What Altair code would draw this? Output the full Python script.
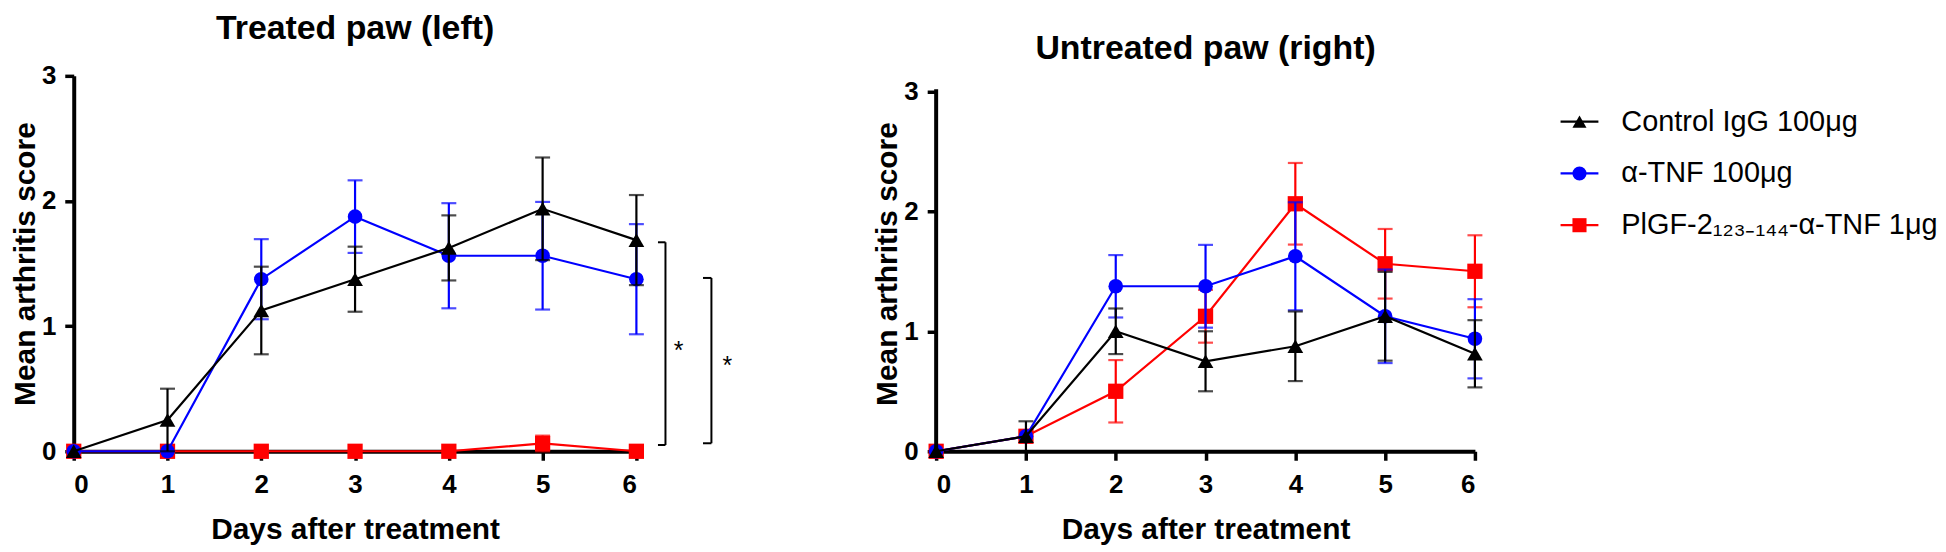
import altair as alt
import pandas as pd

# ---------------- data ----------------
days = [0, 1, 2, 3, 4, 5, 6]
series_names = ["Control IgG 100μg", "α-TNF 100μg", "PlGF-2₁₂₃₋₁₄₄-α-TNF 1μg"]
series_colors = ["#000000", "#0000ff", "#ff0000"]
series_shapes = ["triangle-up", "circle", "square"]
series_sizes = [250, 215, 235]

# Treated paw (left)
left_igg = [0, 0.25, 1.125, 1.375, 1.625, 1.9375, 1.6875]
left_igg_sem = [0, 0.25, 0.35, 0.26, 0.26, 0.41, 0.36]
left_tnf = [0, 0, 1.375, 1.875, 1.5625, 1.5625, 1.375]
left_tnf_sem = [0, 0, 0.32, 0.29, 0.42, 0.43, 0.44]
left_plgf = [0, 0, 0, 0, 0, 0.0625, 0]
left_plgf_sem = [0, 0, 0, 0, 0, 0.0625, 0]

# Untreated paw (right)
right_igg = [0, 0.125, 1.0, 0.75, 0.875, 1.125, 0.8125]
right_igg_sem = [0, 0.125, 0.19, 0.25, 0.29, 0.37, 0.28]
right_tnf = [0, 0.125, 1.375, 1.375, 1.625, 1.125, 0.9375]
right_tnf_sem = [0, 0, 0.26, 0.345, 0.45, 0.39, 0.33]
right_plgf = [0, 0.125, 0.5, 1.125, 2.0625, 1.5625, 1.5]
right_plgf_sem = [0, 0, 0.26, 0.22, 0.34, 0.29, 0.30]

# significance brackets (left panel)
bracket_x = [6.31, 6.80]
bracket_arm_x = [6.23, 6.71]
bracket_top = [1.67, 1.385]
bracket_bottom = [0.05, 0.064]
star_x = [6.45, 6.97]
star_y = [0.84, 0.72]
star_text = ["*", "*"]

y_ticks = [0, 1, 2, 3]
axis_line_y = [0, 3]

FONT = "Liberation Sans"


def make_df(means, sems):
    rows = []
    for name, m, s in zip(series_names, means, sems):
        for d, mv, sv in zip(days, m, s):
            rows.append({"series": name, "day": d, "mean": mv,
                         "lo": max(mv - sv, 0), "hi": mv + sv, "sem": sv})
    return pd.DataFrame(rows)


left_df = make_df([left_igg, left_tnf, left_plgf],
                  [left_igg_sem, left_tnf_sem, left_plgf_sem])
right_df = make_df([right_igg, right_tnf, right_plgf],
                   [right_igg_sem, right_tnf_sem, right_plgf_sem])

color_scale = alt.Scale(domain=series_names, range=series_colors)
shape_scale = alt.Scale(domain=series_names, range=series_shapes)


def panel(df, title, width, height, ymax, title_offset, draw_domain=True, extra=None):
    def X(field):
        return alt.X(field, type="quantitative",
                     scale=alt.Scale(domain=[0, 6], nice=False, zero=False),
                     axis=alt.Axis(values=days, format="d", title="Days after treatment",
                                   labelPadding=11, titlePadding=18))

    def Y(field):
        return alt.Y(field, type="quantitative",
                     scale=alt.Scale(domain=[0, ymax], nice=False, zero=False),
                     axis=alt.Axis(values=y_ticks, format="d", title="Mean arthritis score",
                                   labelPadding=9, titlePadding=1, domain=draw_domain))

    col = alt.Color("series:N", scale=color_scale, legend=None)
    layers = []
    for i in [2, 1, 0]:
        name = series_names[i]
        sub = df[df["series"] == name]
        err = sub[sub["sem"] > 0]
        base = alt.Chart(sub)
        layers.append(base.mark_line(strokeWidth=2.2).encode(x=X("day"), y=Y("mean"), color=col))
        if len(err):
            eb = alt.Chart(err)
            layers.append(eb.mark_rule(strokeWidth=2.2).encode(x=X("day"), y=Y("lo"), y2="hi", color=col))
            layers.append(eb.mark_tick(orient="horizontal", size=15, thickness=2.2).encode(
                x=X("day"), y=Y("hi"), color=col))
            layers.append(eb.mark_tick(orient="horizontal", size=15, thickness=2.2).encode(
                x=X("day"), y=Y("lo"), color=col))
        layers.append(base.mark_point(filled=True, opacity=1, size=series_sizes[i],
                                      shape=series_shapes[i]).encode(
            x=X("day"), y=Y("mean"), color=col))
    if not draw_domain:
        ax = pd.DataFrame({"x": [0], "y0": [axis_line_y[0]], "y1": [axis_line_y[1]]})
        layers.append(alt.Chart(ax).mark_rule(strokeWidth=4, color="black", strokeCap="square").encode(
            x=X("x"), y=Y("y0"), y2="y1"))
    if extra is not None:
        layers += extra(X, Y)
    return alt.layer(*layers).properties(
        width=width, height=height,
        title=alt.TitleParams(title, font=FONT, fontSize=34, fontWeight="bold",
                              anchor="middle", frame="group", offset=title_offset,
                              color="black"))


def brackets(X, Y):
    bdf = pd.DataFrame({"bx": bracket_x, "ax": bracket_arm_x,
                        "top": bracket_top, "bot": bracket_bottom})
    sdf = pd.DataFrame({"sx": star_x, "sy": star_y, "t": star_text})
    b = alt.Chart(bdf)
    return [
        b.mark_rule(strokeWidth=2, color="black", clip=False).encode(x=X("bx"), y=Y("bot"), y2="top"),
        b.mark_rule(strokeWidth=2, color="black", clip=False).encode(x=X("ax"), x2="bx", y=Y("top")),
        b.mark_rule(strokeWidth=2, color="black", clip=False).encode(x=X("ax"), x2="bx", y=Y("bot")),
        alt.Chart(sdf).mark_text(font=FONT, fontSize=25, color="black", baseline="middle",
                                 dy=5, clip=False).encode(x=X("sx"), y=Y("sy"), text="t:N"),
    ]


left = panel(left_df, "Treated paw (left)", 565, 377, 3, 17, True, brackets)
right = panel(right_df, "Untreated paw (right)", 541, 377, 3 * 377 / 361.5, 10, False)

# legend panel
leg_df = pd.DataFrame({"series": series_names})
leg_y = alt.Y("series:N", sort=series_names,
              scale=alt.Scale(type="point", padding=0.885), axis=None)
leg_base = alt.Chart(leg_df).encode(y=leg_y)
legend = alt.layer(
    leg_base.mark_rule(strokeWidth=2.2).encode(
        x=alt.value(0), x2=alt.value(38),
        color=alt.Color("series:N", scale=color_scale, legend=None)),
    leg_base.mark_point(filled=True, opacity=1, size=200).encode(
        x=alt.value(19),
        color=alt.Color("series:N", scale=color_scale, legend=None),
        shape=alt.Shape("series:N", scale=shape_scale, legend=None)),
    leg_base.mark_text(align="left", baseline="middle", font=FONT, fontSize=29,
                       color="black").encode(x=alt.value(61), text="series:N"),
).properties(width=40, height=196)

chart = alt.hconcat(
    left,
    alt.hconcat(right, legend, spacing=76),
    spacing=140,
).properties(padding={"left": 2, "top": 3, "right": 0, "bottom": 0},
             background="white").configure_view(stroke=None).configure_axis(
    grid=False,
    domainColor="black", domainWidth=4,
    tickColor="black", tickWidth=3.5, tickSize=9,
    labelFont=FONT, labelFontSize=26, labelFontWeight="bold", labelColor="black",
    titleFont=FONT, titleFontSize=30, titleFontWeight="bold", titleColor="black",
)

chart.save("out.html", embed_options={"renderer": "svg", "actions": False})
